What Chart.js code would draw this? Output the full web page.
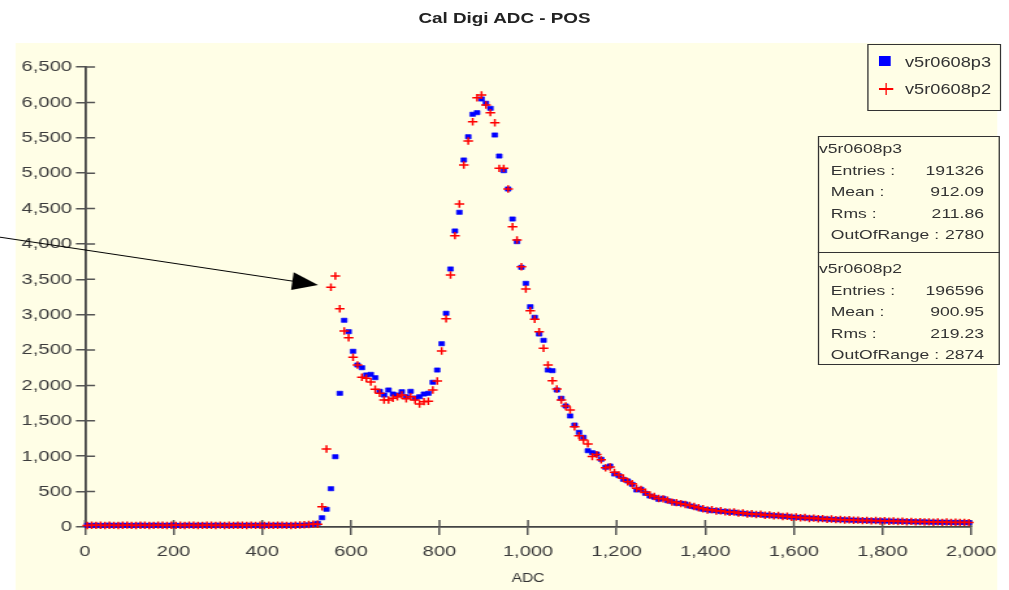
<!DOCTYPE html>
<html>
<head>
<meta charset="utf-8">
<script src="https://cdn.jsdelivr.net/npm/chart.js@4.4.1/dist/chart.umd.min.js"></script>
<style>
  html, body { margin:0; padding:0; background:#ffffff; overflow:hidden; }
  #wrap { position:absolute; left:0; top:0; width:776px; height:590px; transform-origin:0 0; transform:scaleX(1.30026); font-family:"Liberation Sans", Arial, sans-serif; }
  #panel { position:absolute; left:11.5px; top:43px; width:755.3px; height:547px; background:#fffee6; }
  #chart { position:absolute; left:0; top:0; }
  #title { position:absolute; left:0; top:9px; width:776px; text-align:center; font-weight:bold; font-size:14.5px; line-height:18px; color:#222; }
  .box { position:absolute; border:1.5px solid #333; background:#fffee6; box-sizing:border-box; }
  .t { position:absolute; font-size:13.5px; line-height:16px; height:16px; color:#333; white-space:nowrap; }
  .row { position:absolute; font-size:13.5px; line-height:16px; height:16px; color:#333; display:flex; justify-content:space-between; white-space:nowrap; }
  .lg { position:absolute; font-size:14px; line-height:16px; color:#333; white-space:nowrap; }
</style>
</head>
<body>
<div id="wrap">
  <div id="panel"></div>
  <div id="title">Cal Digi ADC - POS</div>
  <canvas id="chart" width="776" height="590"></canvas>
  <div id="overlay"></div>
</div>
<script>
// ---- data ----
const SERIES_NAMES = ['v5r0608p3', 'v5r0608p2'];
const X_TICK_STEP = 200;
const Y_TICK_STEP = 500;
const X_RANGE = [0, 2000];
const Y_RANGE = [0, 6500];
const BIN_WIDTH = 10;

const p3Counts = [
  24, 22, 25, 21, 23, 26, 22, 24, 25, 23,
  21, 24, 26, 22, 23, 25, 24, 22, 23, 26,
  24, 21, 23, 25, 22, 24, 26, 23, 22, 25,
  24, 23, 21, 24, 26, 22, 25, 23, 24, 22,
  25, 23, 24, 26, 22, 24, 23, 25, 24, 27,
  30, 36, 52, 131, 250, 541, 993, 1889, 2921, 2760,
  2483, 2289, 2251, 2148, 2157, 2110, 1917, 1865, 1936, 1879,
  1865, 1912, 1841, 1917, 1823, 1841, 1879, 1889, 2045, 2218,
  2590, 3020, 3646, 4183, 4447, 5186, 5515, 5832, 5855, 6048,
  5987, 5916, 5539, 5242, 5035, 4776, 4352, 4032, 3669, 3443,
  3113, 2963, 2727, 2638, 2218, 2209, 1936, 1819, 1710, 1569,
  1441, 1338, 1267, 1078, 1050, 1031, 957, 844, 862, 749,
  725, 674, 650, 603, 523, 533, 476, 438, 420, 391,
  405, 372, 358, 335, 335, 325, 297, 283, 268, 250,
  244, 231, 233, 219, 221, 207, 210, 196, 194, 184,
  182, 176, 177, 166, 168, 158, 159, 149, 150, 140,
  137, 134, 128, 127, 121, 120, 114, 113, 107, 106,
  103, 101, 98, 97, 93, 93, 90, 90, 87, 88,
  85, 84, 81, 81, 78, 77, 75, 74, 71, 72,
  69, 69, 67, 67, 65, 65, 63, 64, 62, 62
];
const p2Counts = [
  21, 25, 23, 24, 22, 25, 23, 21, 24, 26,
  23, 22, 25, 24, 21, 23, 26, 24, 22, 25,
  23, 24, 22, 26, 25, 21, 23, 24, 25, 22,
  26, 22, 24, 23, 25, 24, 21, 26, 23, 24,
  22, 25, 23, 24, 26, 23, 22, 25, 28, 31,
  35, 41, 38, 287, 1102, 3387, 3547, 3085, 2770, 2675,
  2398, 2289, 2115, 2101, 2049, 1946, 1889, 1795, 1795, 1819,
  1841, 1865, 1813, 1841, 1795, 1738, 1771, 1776, 1936, 2063,
  2487, 2943, 3561, 4117, 4564, 5115, 5454, 5727, 6066, 6104,
  5963, 5855, 5713, 5068, 5068, 4776, 4243, 4055, 3678, 3363,
  3057, 2935, 2760, 2525, 2289, 2067, 1950, 1795, 1710, 1653,
  1417, 1291, 1230, 1174, 995, 1023, 949, 836, 848, 772,
  735, 690, 640, 612, 548, 530, 490, 452, 430, 402,
  398, 380, 352, 345, 330, 318, 305, 290, 272, 258,
  240, 245, 226, 230, 214, 208, 212, 196, 200, 184,
  188, 176, 181, 165, 170, 158, 162, 148, 152, 138,
  142, 130, 134, 121, 126, 116, 119, 108, 112, 104,
  107, 98, 102, 95, 97, 90, 94, 87, 91, 84,
  89, 82, 85, 78, 82, 74, 79, 72, 76, 70,
  73, 68, 72, 66, 70, 64, 68, 63, 66, 62
];
// bin centres (categories)
const adcBins = p3Counts.map((_, i) => i * BIN_WIDTH + BIN_WIDTH / 2);

const statsP3 = [['Entries :', '191326'], ['Mean :', '912.09'], ['Rms :', '211.86'], ['OutOfRange :', '2780']];
const statsP2 = [['Entries :', '196596'], ['Mean :', '900.95'], ['Rms :', '219.23'], ['OutOfRange :', '2874']];

// annotation arrow (data coordinates: from, tip)
const arrowFrom = [-192, 4095];
const arrowTip = [526, 3420];

// ---- layout helpers ----
const S = 1009 / 776;     // horizontal stretch of the whole page
const FONT = '"Liberation Sans", Arial, sans-serif';

// ---- overlay (legend + stats) ----
const ov = document.getElementById('overlay');
function el(cls, style, text) {
  const d = document.createElement('div');
  if (cls) d.className = cls;
  Object.assign(d.style, style);
  if (text !== undefined) d.textContent = text;
  ov.appendChild(d);
  return d;
}
// legend box
el('box', {left:'667px', top:'44px', width:'102.6px', height:'67px'});
el(null, {position:'absolute', left:'676.2px', top:'55.7px', width:'9.2px', height:'10px', background:'#0000ff'});
el('lg', {left:'696px', top:'54px'}, SERIES_NAMES[0]);
el(null, {position:'absolute', left:'676px', top:'88.3px', width:'10.8px', height:'1.5px', background:'#ff0000'});
el(null, {position:'absolute', left:'680.8px', top:'83px', width:'1.2px', height:'12px', background:'#ff0000'});
el('lg', {left:'696px', top:'81px'}, SERIES_NAMES[1]);

// stats box
el('box', {left:'628.9px', top:'135.7px', width:'140.2px', height:'229.6px'});
el(null, {position:'absolute', left:'628.9px', top:'251.6px', width:'140.2px', height:'1.5px', background:'#333'});
function statBlock(name, rows, y0) {
  el('t', {left:'629.9px', top:(y0 - 8) + 'px'}, name);
  rows.forEach((r, i) => {
    const d = el('row', {left:'638.9px', width:'117.9px', top:(y0 + 21.6 * (i + 1) - 8) + 'px'});
    const a = document.createElement('span'); a.textContent = r[0];
    const b = document.createElement('span'); b.textContent = r[1];
    d.appendChild(a); d.appendChild(b);
  });
}
statBlock(SERIES_NAMES[0], statsP3, 149);
statBlock(SERIES_NAMES[1], statsP2, 269);

// ---- plugins ----
const innerTicks = {
  id: 'innerTicks',
  beforeDatasetsDraw(chart) {
    const {ctx, chartArea, scales} = chart;
    ctx.save();
    ctx.strokeStyle = '#555';
    ctx.lineWidth = 1.5;
    ctx.beginPath();
    scales.x.ticks.forEach(t => {
      const px = scales.x.getPixelForValue(t.value);
      ctx.moveTo(px, chartArea.bottom);
      ctx.lineTo(px, chartArea.bottom - 7);
    });
    scales.y.ticks.forEach(t => {
      const py = scales.y.getPixelForValue(t.value);
      ctx.moveTo(chartArea.left, py);
      ctx.lineTo(chartArea.left + 7.7, py);
    });
    ctx.stroke();
    ctx.restore();
  }
};
const arrowPlugin = {
  id: 'arrow',
  afterDraw(chart) {
    const {ctx, scales} = chart;
    const sx = scales.x.getPixelForValue(arrowFrom[0]);
    const sy = scales.y.getPixelForValue(arrowFrom[1]);
    const tx = scales.x.getPixelForValue(arrowTip[0]);
    const ty = scales.y.getPixelForValue(arrowTip[1]);
    // geometry of head in displayed (stretched) space
    const dx = (tx - sx) * S, dy = ty - sy;
    const len = Math.hypot(dx, dy);
    const ux = dx / len, uy = dy / len;
    const L = 26, W = 9;
    const bx = tx * S - L * ux, by = ty - L * uy;
    const p1 = [(bx - W * uy) / S, by + W * ux];
    const p2 = [(bx + W * uy) / S, by - W * ux];
    ctx.save();
    ctx.strokeStyle = '#000';
    ctx.lineWidth = 1;
    ctx.beginPath();
    ctx.moveTo(sx, sy);
    ctx.lineTo((bx + 2 * ux) / S, by + 2 * uy);
    ctx.stroke();
    ctx.fillStyle = '#000';
    ctx.beginPath();
    ctx.moveTo(tx, ty);
    ctx.lineTo(p1[0], p1[1]);
    ctx.lineTo(p2[0], p2[1]);
    ctx.closePath();
    ctx.fill();
    ctx.restore();
  }
};

// ---- chart ----
const tickFont = {family: FONT, size: 15.5};
new Chart(document.getElementById('chart'), {
  type: 'scatter',
  data: {
    datasets: [
      {
        label: SERIES_NAMES[0],
        data: adcBins.map((x, i) => ({x, y: p3Counts[i]})),
        pointStyle: 'rect',
        pointRadius: 3,
        backgroundColor: '#0000ff',
        borderColor: '#0000ff',
        borderWidth: 0.6,
        order: 1,
        clip: false
      },
      {
        label: SERIES_NAMES[1],
        data: adcBins.map((x, i) => ({x, y: p2Counts[i]})),
        pointStyle: 'cross',
        pointRadius: 3.7,
        borderColor: '#ff0000',
        backgroundColor: '#ff0000',
        borderWidth: 1.5,
        order: 0,
        clip: false
      }
    ]
  },
  options: {
    responsive: false,
    animation: false,
    events: [],
    locale: 'en-US',
    layout: {padding: {left: 0, right: 29.2, top: 67, bottom: 0}},
    plugins: {legend: {display: false}, tooltip: {enabled: false}, title: {display: false}},
    scales: {
      x: {
        type: 'linear',
        min: X_RANGE[0], max: X_RANGE[1],
        ticks: {stepSize: X_TICK_STEP, font: tickFont, color: '#3c3c3c', padding: 7.5, maxRotation: 0, autoSkip: false},
        grid: {drawOnChartArea: false, drawTicks: true, tickLength: 8, color: '#555', lineWidth: 1.5},
        border: {color: '#444', width: 1.8},
        title: {display: true, text: 'ADC', font: {family: FONT, size: 12}, color: '#333', padding: {top: 0, bottom: 4}},
        afterFit(s) { s.height = 590 - 527; }
      },
      y: {
        type: 'linear',
        min: Y_RANGE[0], max: Y_RANGE[1],
        ticks: {stepSize: Y_TICK_STEP, font: tickFont, color: '#3c3c3c', padding: 3},
        grid: {drawOnChartArea: false, drawTicks: true, tickLength: 7, color: '#555', lineWidth: 1.5},
        border: {color: '#444', width: 1.8},
        afterFit(s) { s.width = 65.4; }
      }
    }
  },
  plugins: [innerTicks, arrowPlugin]
});
</script>
</body>
</html>
